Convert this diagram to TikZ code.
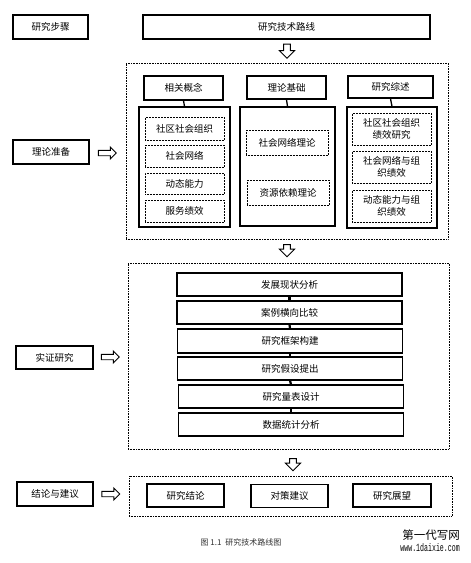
\documentclass[tikz,border=0pt]{standalone}
\usepackage{fontspec}
\newfontfamily\cjk{Noto Sans CJK SC}
\setmainfont{Liberation Sans}
\newfontfamily\wmono{Liberation Mono}
\usetikzlibrary{shapes.arrows,positioning}
\tikzset{
  x=1pt,y=-1pt,
  every node/.style={font=\cjk\fontsize{9.5}{11}\selectfont, inner sep=0pt},
  solidbox/.style={draw, line width=1.3pt},
  bigbox/.style={draw, line width=1.3pt},
  dotbox/.style={draw, densely dotted, line width=0.5pt},
  outerbox/.style={draw, densely dotted, line width=0.6pt},
  link/.style={line width=1.3pt},
  steplink/.style={line width=2.2pt},
  harrowdown/.style={single arrow, draw, line width=0.9pt, fill=white, shape border rotate=270,
     minimum height=14pt, minimum width=15pt, single arrow head extend=3pt, inner sep=2pt},
  harrowright/.style={single arrow, draw, line width=0.9pt, fill=white,
     minimum height=18pt, minimum width=12pt, single arrow head extend=2.5pt, inner sep=1.6pt},
}
\begin{document}
\begin{tikzpicture}
\useasboundingbox (0,0) rectangle (471,563);
\fill[white] (0,0) rectangle (471,563);
% left step boxes
\node[solidbox, minimum width=75pt, minimum height=24pt] (s0) at (50.5,27) {研究步骤};
\node[solidbox, minimum width=76pt, minimum height=24pt] (s1) at (51,152) {理论准备};
\node[solidbox, minimum width=77pt, minimum height=23pt] (s2) at (54.5,357.5) {实证研究};
\node[solidbox, minimum width=76pt, minimum height=24pt] (s3) at (55,494) {结论与建议};
% title
\node[solidbox, minimum width=287pt, minimum height=24pt] (t) at (286.5,27) {研究技术路线};
% outer dotted boxes
\node[outerbox, minimum width=322pt, minimum height=176pt] (o1) at (287,151) {};
\node[outerbox, minimum width=321pt, minimum height=186pt] (o2) at (288.5,356) {};
\node[outerbox, minimum width=323pt, minimum height=40pt] (o3) at (290.5,496) {};
% vertical arrows
\node[harrowdown] (a1) at (287,49.5) {};
\node[harrowdown, minimum height=12pt] (a2) at (287,249) {};
\node[harrowdown, minimum height=12pt] (a3) at (293,463) {};
% horizontal arrows
\node[harrowright] (r1) at (106,153) {};
\node[harrowright] (r2) at (109,357) {};
\node[harrowright] (r3) at (109.5,494) {};
% column 1
\node[solidbox, minimum width=79pt, minimum height=24pt] (h1) at (183.5,88) {相关概念};
\node[bigbox, minimum width=91pt, minimum height=120pt] (b1) at (184.5,167) {};
\draw[link] (h1.south) -- (b1.north);
\node[dotbox, minimum width=79pt, minimum height=23pt] (c11) at (184.5,128.5) {社区社会组织};
\node[dotbox, minimum width=79pt, minimum height=22pt] (c12) at (184.5,156) {社会网络};
\node[dotbox, minimum width=79pt, minimum height=21pt] (c13) at (184.5,183.5) {动态能力};
\node[dotbox, minimum width=79pt, minimum height=22pt] (c14) at (184.5,211) {服务绩效};
% column 2
\node[solidbox, minimum width=79pt, minimum height=23pt] (h2) at (286.5,87.5) {理论基础};
\node[bigbox, minimum width=95pt, minimum height=119pt] (b2) at (287.5,166.5) {};
\draw[link] (h2.south) -- (b2.north);
\node[dotbox, minimum width=82pt, minimum height=25pt] (c21) at (287,142.5) {社会网络理论};
\node[dotbox, minimum width=82pt, minimum height=25pt] (c22) at (288,192.5) {资源依赖理论};
% column 3
\node[solidbox, minimum width=85pt, minimum height=22pt] (h3) at (390.5,87) {研究综述};
\node[bigbox, minimum width=90pt, minimum height=121pt] (b3) at (392,167.5) {};
\draw[link] (h3.south) -- (b3.north);
\node[dotbox, minimum width=79pt, minimum height=32pt, align=center] (c31) at (391.5,129) {社区社会组织\\[1pt]绩效研究};
\node[dotbox, minimum width=79pt, minimum height=32pt, align=center] (c32) at (391.5,167) {社会网络与组\\[1pt]织绩效};
\node[dotbox, minimum width=79pt, minimum height=32pt, align=center] (c33) at (391.5,206) {动态能力与组\\[1pt]织绩效};
% empirical steps
\node[solidbox, minimum width=225pt, minimum height=23pt] (e1) at (289.5,284.5) {发展现状分析};
\node[solidbox, minimum width=225pt, minimum height=23pt] (e2) at (289.5,312.5) {案例横向比较};
\node[solidbox, minimum width=225pt, minimum height=24pt] (e3) at (290,341) {研究框架构建};
\node[solidbox, minimum width=225pt, minimum height=23pt] (e4) at (290,368.5) {研究假设提出};
\node[solidbox, minimum width=225pt, minimum height=23pt] (e5) at (291,396.5) {研究量表设计};
\node[solidbox, minimum width=225pt, minimum height=23pt] (e6) at (291,424.5) {数据统计分析};
\draw[steplink] (e1.south) -- (e2.north);
\draw[steplink] (e2.south) -- (e3.north);
\draw[steplink] (e3.south) -- (e4.north);
\draw[steplink] (e4.south) -- (e5.north);
\draw[steplink] (e5.south) -- (e6.north);
% conclusions
\node[solidbox, minimum width=77pt, minimum height=23pt] (k1) at (185.5,495.5) {研究结论};
\node[solidbox, minimum width=77pt, minimum height=23pt] (k2) at (289.5,496) {对策建议};
\node[solidbox, minimum width=78pt, minimum height=23pt] (k3) at (392,495.5) {研究展望};
% caption
\node[font=\cjk\fontsize{8}{9}\selectfont, text=black!80] (cap) at (241,542) {图 1.1\hspace{4pt}研究技术路线图};
% watermark
\node[font=\cjk\fontsize{11.5}{12}\selectfont, anchor=east] (w1) at (460,535) {第一代写网};
\node[font=\wmono\fontsize{11}{12}\selectfont, anchor=east] (w2) at (460,548) {\scalebox{0.6}[1]{www.1daixie.com}};
\end{tikzpicture}
\end{document}
